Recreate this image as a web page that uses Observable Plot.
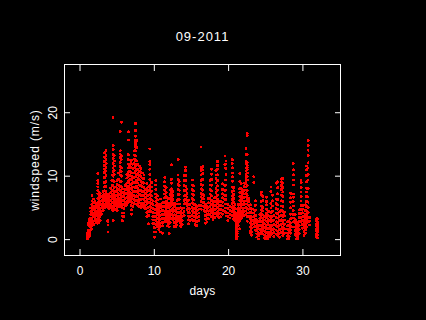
<!DOCTYPE html>
<html>
<head>
<meta charset="utf-8">
<script src="https://cdn.jsdelivr.net/npm/d3@7"></script>
<script src="https://cdn.jsdelivr.net/npm/@observablehq/plot@0.6"></script>
<style>
html,body{margin:0;padding:0;background:#000;overflow:hidden}
svg{display:block}
</style>
</head>
<body>
<div id="chart"></div>
<script>
const title = "09-2011";
const xLabel = "days";
const yLabel = "windspeed (m/s)";
const xTicks = [0, 10, 20, 30];
const yTicks = [0, 10, 20];
// each row: [day, speeds read at that day]
const week1 = [
[1.0,[0.2,0.5,0.8,1.0]],
[1.1,[0.3,0.7,1.1,1.5,2.3,2.6]],
[1.3,[0.6,1.0,1.3,2.2,2.6,3.0,3.3]],
[1.45,[1.6,2.0,2.5,3.1,3.4,3.9,4.4,5.0]],
[1.6,[1.7,2.2,2.7,3.3,4.0,4.6,5.1,5.5,6.1,7.0]],
[1.8,[2.4,2.9,3.6,4.1,4.7,5.2,5.8,6.4]],
[2.0,[3.0,3.4,3.8,4.3,4.8,5.3,6.0]],
[2.2,[2.7,3.2,3.9,4.5,5.0,5.6]],
[2.4,[2.6,3.1,3.7,4.2,4.9,5.3,5.9,6.5,7.2,7.8,8.3,8.8,9.3,10.4]],
[2.55,[2.7,3.3,4.1,4.6,5.2,5.7,6.2,6.9,7.5]],
[2.7,[3.0,3.6,4.4,4.9,5.5,6.0,6.6,7.3]],
[2.9,[4.0,4.5,5.0,5.6,6.1,6.8]],
[3.1,[4.6,5.2,5.7,6.3,7.0,7.6]],
[3.3,[5.0,5.5,6.1,6.6,7.1,7.7,8.3,9.0,9.8,10.6,11.1,11.7,12.3,13.0,13.7]],
[3.5,[5.3,5.9,6.4,7.0,7.6,8.4,9.2,10.1,10.8,11.4,12.0,12.6,13.3,14.0]],
[3.6,[5.4,6.0,6.5,7.2]],
[3.75,[1.2,2.3,2.9,3.0,5.1,5.7,6.2,6.8,7.2]],
[3.9,[4.9,5.4,5.9,6.5,7.0]],
[4.1,[5.1,5.6,6.2,6.8,7.4,8.1]],
[4.3,[4.7,5.3,5.8,6.4,7.0,7.7,8.5,9.3,10.2]],
[4.45,[3.0,4.6,5.2,5.9,6.5,7.1,7.7,8.6,9.4,10.0,10.7,11.3,12.0,12.8,13.4,14.2,14.8,19.2]],
[4.6,[4.9,5.5,6.1,6.7,7.4,8.2,9.1,10.3,10.9,11.6,12.4,13.2]],
[4.8,[4.7,5.3,5.9,6.4,7.0,7.6,8.3]],
[5.0,[4.6,5.1,5.7,6.3,6.9,7.5,8.1,8.7,9.3]],
[5.2,[5.4,6.0,6.6,7.2,7.9,8.6,9.5,10.5]],
[5.4,[5.2,5.8,6.5,7.1,7.7,8.4,9.1,10.2,10.9,11.5,12.2,12.9,13.5,14.0,17.0]],
[5.55,[5.6,6.2,6.9,7.6,8.4,9.2,10.0,10.7,11.3,12.6,13.2,18.5]],
[5.7,[3.0,3.7,4.2,5.0,5.5,6.1,6.8,7.4,8.0]],
[5.9,[3.6,4.2,4.9,5.5,6.2,6.9,7.5]],
[6.1,[5.3,5.9,6.5,7.2,7.9,8.5]],
[6.3,[5.5,6.0,6.7,7.3,8.0,8.9,9.7,10.3]],
[6.5,[5.9,6.5,7.1,7.7,8.4,9.2,10.0,10.6,11.3,11.9,12.6,13.4,15.7,17.0]],
[6.7,[6.2,6.8,7.4,8.1,8.8,9.5,10.2,10.8,11.5]]
];
const week2 = [
[6.9,[4.0,4.7,5.4,6.0,6.6,7.3,8.0,8.7,9.4,10.0,10.6,11.3,12.0,12.5]],
[7.1,[5.2,5.8,6.4,7.0,7.7,8.3,9.0,9.7,10.5,11.2,11.9]],
[7.3,[5.7,6.3,6.9,7.6,8.3,9.0,9.8,10.5,11.3,12.0,12.7,13.3,14.0]],
[7.45,[6.1,6.8,7.5,8.2,9.0,9.9,10.8,11.6,12.4,13.2,14.0,14.6,15.0,15.4,15.7,16.3,17.2,18.3]],
[7.6,[5.6,6.2,6.9,7.6,8.4,9.3,10.2,11.0,11.8,12.4,14.5,15.6]],
[7.8,[5.4,6.0,6.7,7.4,8.1,8.9,9.6,10.4,11.1,11.9]],
[8.0,[5.2,5.8,6.4,7.1,7.8,8.6,9.4,10.1,10.8,11.6]],
[8.2,[5.0,5.6,6.3,7.0,7.7,8.5,9.2,9.9,10.6,11.2]],
[8.4,[5.2,5.7,6.4,7.0,7.6,8.3,9.0,9.7,10.5]],
[8.6,[5.1,5.7,6.3,6.9,7.6,8.2,8.9,9.6,10.2]],
[8.8,[4.9,5.4,6.0,6.6,7.2,7.9]],
[9.0,[3.6,4.3,5.0,5.6,6.2,6.9,7.5,8.0,8.8]],
[9.2,[2.5,3.8,4.4,5.1,5.8,6.4,7.0,7.7,8.3]],
[9.4,[4.6,5.3,5.9,6.5,7.2,7.9,8.6,9.5,10.3,11.1,11.8,12.3,14.3]],
[9.6,[4.4,5.0,5.7,6.3,6.9,7.6,8.3,9.0]],
[9.8,[2.5,3.1,3.7,4.3,4.9,5.5,6.1]],
[10.0,[1.2,0.4,1.9,2.5,3.1,3.6,4.2,4.8]],
[10.2,[1.2,2.4,3.0,3.6,4.2,4.8,5.4,6.0,6.6,7.2,7.9,8.6,9.3]],
[10.4,[2.0,2.6,3.3,3.9,4.5,5.1,5.7,6.3,6.9]],
[10.6,[1.6,2.2,2.9,3.5,4.1,4.8,5.4]],
[10.8,[1.2,2.1,2.6,3.2,3.8,4.4,5.0,5.6,6.4]],
[11.1,[1.0,2.2,2.7,3.4,4.0,4.6,5.2,5.8]],
[11.4,[2.8,3.3,3.9,4.5,5.2,5.9,6.6,7.2,7.8,8.4,9.1,9.8]],
[11.6,[3.0,3.6,4.2,4.9,5.5,6.1,6.8,7.4,8.2]],
[11.8,[2.2,2.7,3.3,3.9,4.5,5.2,5.8,6.5]],
[12.0,[1.0,2.0,2.5,3.1,3.7,4.3,5.0,5.7]],
[12.15,[2.7,3.3,3.9,4.6,5.2,5.8,6.5,7.1,7.8]],
[12.3,[3.4,4.0,4.7,5.4,6.0,6.7,7.4,8.0,8.9,9.5,11.8]],
[12.5,[3.2,3.8,4.4,5.0,5.6,6.3,7.0,7.6]],
[12.7,[2.1,2.7,3.3,3.9,4.6,5.2,5.7]],
[12.9,[2.0,2.6,3.2,3.8,4.4,5.0]],
[13.05,[2.3,2.9,3.5,4.2,4.9,5.6,6.2]],
[13.2,[3.0,3.6,4.3,4.9,5.6,6.3,7.1,7.9,8.7,9.5,10.2,12.6]],
[13.35,[2.9,3.5,4.2,4.9,5.6,6.3,7.1,7.8,8.5,9.2]],
[13.55,[2.1,2.6,3.2,3.8,4.4,5.0]],
[13.75,[2.4,3.0,3.6,4.2,4.9]]
];
const week3 = [
[14.0,[3.8,4.4,5.0,5.6,6.2,6.9,7.7,8.5,9.3,10.1]],
[14.2,[5.7,6.3,7.0,7.7,8.4,9.3,10.1,10.9,11.4]],
[14.4,[4.8,5.4,6.0,6.7,7.3,8.0]],
[14.6,[2.5,3.1,3.7,4.3,4.9,5.6,6.2]],
[14.8,[3.0,3.6,4.2,4.8,5.5]],
[15.1,[3.2,3.8,4.5,5.1,5.8,6.5,7.2,7.9,8.6,9.4]],
[15.25,[3.0,3.7,4.3,4.9,5.6,6.3,7.0,7.7,8.5]],
[15.5,[2.4,3.0,3.6,4.3,4.9,5.5]],
[15.7,[2.2,2.8,3.4,4.0,4.6,5.2]],
[16.0,[3.0,3.6,4.2,4.8,5.4]],
[16.3,[4.8,5.4,6.0,6.7,7.3,8.0,8.7,9.3,10.2,10.9,11.4,14.6]],
[16.5,[5.3,5.9,6.5,7.1,7.8,8.6,9.5,10.4,11.0,11.5]],
[16.7,[4.6,5.2,5.8,6.4,7.0]],
[16.9,[2.6,3.2,3.8,4.4,5.0,5.6]],
[17.1,[2.8,3.4,4.0,4.7,5.3]],
[17.3,[3.3,3.9,4.5,5.1,5.8,6.5]],
[17.5,[4.0,4.6,5.2,5.8,6.5,7.2,7.9,8.6,9.3]],
[17.7,[3.6,4.2,4.8,5.5,6.2,6.9,7.7,8.6,9.5,10.3,11.1]],
[17.9,[3.2,3.8,4.5,5.1,5.8]],
[18.1,[3.5,4.1,4.7,5.4,6.0,6.6]],
[18.3,[4.2,4.8,5.4,6.0,6.7,7.4,8.1,8.9,9.6,10.2,10.9]],
[18.5,[3.8,4.4,5.0,5.7,6.3,7.0,7.8,8.5,9.3,10.2,11.1,11.7,12.3]],
[18.7,[3.5,4.1,4.7,5.3,6.0]],
[18.9,[3.6,4.2,4.8,5.4,6.0]],
[19.2,[4.0,4.6,5.3,5.9,6.6,7.2,7.9,8.8]],
[19.5,[4.4,5.0,5.6,6.3,7.0,7.7,8.5,9.4,11.3,11.8,13.2]],
[19.65,[3.7,4.3,5.0,5.6,6.3,7.0,7.8,8.6,9.4,10.3,11.2,11.9,12.4]],
[19.9,[3.0,3.6,4.2,4.9,5.5]],
[20.2,[3.4,4.0,4.6,5.2]],
[20.5,[3.8,4.4,5.0,5.7,6.3,6.9,7.6,8.3,9.2,9.9,10.5,11.3,12.0,12.6]],
[20.65,[3.3,3.9,4.6,5.2,5.9,6.5,7.1,7.7,8.2]],
[20.85,[3.0,3.7,4.3,4.9,5.5]]
];
const week4 = [
[21.0,[0.2,0.6,1.0,1.4,1.8,2.2,2.6,3.0,3.5,4.0]],
[21.15,[0.1,0.5,0.9,1.3,1.7,2.1,2.5,2.9,3.4,4.1,4.8]],
[21.3,[2.2,2.7,3.2,3.8,4.4,5.0,5.5]],
[21.5,[1.7,3.0,3.5,4.1,4.8,5.5,6.2,6.8,7.4,8.0,9.2,10.4]],
[21.7,[3.3,3.9,4.5,5.1,5.7,6.3,6.9,7.5,8.1,8.8]],
[21.9,[3.7,4.3,4.9,5.5,6.1,6.7,7.3,7.8]],
[22.1,[3.8,4.4,5.0,5.5,6.0,6.6,7.2,7.7,8.4,8.9]],
[22.35,[4.0,4.5,5.1,5.6,6.1,6.7,7.3,7.8,8.3,8.8,9.3,9.8,10.3,10.8,11.3,11.9,12.3,13.4,14.4]],
[22.5,[2.9,3.6,4.2,4.9,5.6,6.3,7.0,7.7,8.5,9.4,10.0,10.5,11.0,11.4,11.7,12.1,13.4,16.4,16.7]],
[22.7,[3.6,4.2,4.8,5.4,6.0,6.5]],
[22.95,[1.0,1.4,2.0,2.6,3.2,3.7,4.3,4.9,5.5]],
[23.1,[0.7,1.2,1.8,2.4,3.0,3.6,4.2,4.8]],
[23.4,[2.0,2.5,3.0,3.6,4.2,4.7,9.9,9.0]],
[23.6,[1.5,2.1,2.7,3.2,3.8,4.6,5.4,6.1]],
[23.8,[0.4,0.9,1.4,1.9,2.5,3.0]],
[24.0,[0.1,0.6,1.1,1.7,2.2,2.8]],
[24.2,[1.0,1.6,2.2,2.8,3.3,3.9]],
[24.4,[1.1,1.7,2.3,2.9,3.5,4.1,4.7,5.3,6.0,7.1,7.5]],
[24.6,[0.9,1.5,2.1,2.7,3.3,3.9,4.5,5.1,6.2,6.8]],
[24.85,[0.2,0.7,1.3,1.9,2.5,3.1,3.7]],
[25.1,[0.1,0.5,1.1,1.7,2.3,2.9,3.5,4.1,4.8,5.5,6.0,6.7]],
[25.3,[0.1,0.6,1.2,1.8,2.5,3.2,3.8,4.5]],
[25.5,[0.5,1.1,1.7,2.3,3.0,3.7,4.4]],
[25.7,[0.8,1.4,2.1,2.8,3.5,4.2,5.0,5.7,7.6,8.3]],
[25.9,[1.0,1.6,2.3,3.0,3.7,4.5,5.3,6.1,7.0]],
[26.1,[0.5,1.1,1.7,2.4,3.1,3.8]],
[26.4,[0.9,1.5,2.2,2.8,3.5,4.2,4.9,5.7,6.4,8.9]],
[26.6,[0.7,1.3,2.0,2.7,3.4,4.1,4.8,5.5,6.3,7.2,8.2,9.1]],
[26.85,[0.4,1.0,1.6,2.3,3.0,3.7,4.4]],
[27.1,[1.1,1.7,2.4,3.1,3.8,4.6,5.3,6.1,7.0,7.9,8.5,9.1,9.6]]
];
const week5 = [
[27.3,[0.6,1.3,2.0,2.8,3.6,4.4,5.2,6.0,6.8,7.5,8.2,8.9,9.6]],
[27.5,[1.0,1.7,2.4,3.1,3.8,4.3]],
[27.95,[0.1,0.5,1.0,1.6,2.2,2.8]],
[28.15,[0.1,0.5,1.1,1.7,2.3,2.9]],
[28.35,[1.0,1.5,2.1,2.6,3.3,4.0,5.0,5.9,6.6,7.3]],
[28.7,[2.0,2.8,3.4,4.0,4.6,5.3,6.0,6.7,7.2,8.6,9.4,10.2,11.0,12.0]],
[28.95,[0.8,1.4,2.0,2.7,3.2,4.0]],
[29.15,[0.1,0.6,1.1,1.7,2.3,2.8]],
[29.3,[0.1,0.4,0.8,1.3,1.9,2.6]],
[29.5,[1.0,1.6,2.2,2.9,3.5,4.1,4.7]],
[29.75,[2.9,3.5,4.1,4.7,5.4,6.1,6.8,7.5,8.2,9.0,9.4]],
[29.95,[1.8,2.4,3.0,3.6,4.2,4.8,5.4]],
[30.15,[0.7,1.3,1.9,2.5,3.1,3.7]],
[30.35,[1.0,1.6,2.2,2.8,3.4,4.0,4.6,5.5]],
[30.5,[2.0,2.6,3.2,3.8,4.5,5.2,6.0,6.8,7.5,8.1,9.1,10.1,11.0,11.6]],
[30.7,[2.8,3.5,4.3,5.1,5.9,6.7,8.1,9.4,10.3,11.3,12.1,13.3,14.1,14.8,15.6]],
[30.9,[2.3,2.9,3.5]],
[31.85,[0.5,0.9,1.3,1.7,2.1,2.5,2.9,3.3]],
[31.95,[0.3,0.7,1.2,1.6,2.0,2.4,2.8,3.2]]
];
const data = [...week1, ...week2, ...week3, ...week4, ...week5]
  .flatMap(([day, speeds]) => speeds.map(speed => ({day, speed})));
const blank = () => "";

const plot = Plot.plot({
  width: 426,
  height: 320,
  marginLeft: 64,
  marginRight: 86,
  marginTop: 64,
  marginBottom: 65,
  style: {background: "#000", color: "#fff", fontFamily: "Liberation Sans", fontSize: "12px"},
  x: {domain: [-2.09, 35.06]},
  y: {domain: [-2.5, 27.6]},
  marks: [
    Plot.dot(data, {x: "day", y: "speed", r: 1.5, fill: "#ff0000", stroke: "none", shapeRendering: "crispEdges"}),
    Plot.frame({stroke: "#fff", strokeOpacity: 1, strokeWidth: 1, shapeRendering: "crispEdges"}),
    Plot.axisX(xTicks, {anchor: "bottom", tickSize: -6, tickPadding: 17, fontSize: 12, fill: "#fff", stroke: "#fff", strokeOpacity: 1, label: xLabel, labelAnchor: "center", labelOffset: 39, labelArrow: "none", tickFormat: d => String(d)}),
    Plot.axisX(xTicks, {anchor: "top", tickSize: -6, stroke: "#fff", strokeOpacity: 1, tickFormat: blank, label: null}),
    Plot.axisY(yTicks, {anchor: "left", tickSize: -6, tickPadding: 14, fontSize: 12, tickRotate: -90, textAnchor: "middle", fill: "#fff", stroke: "#fff", strokeOpacity: 1, label: yLabel, labelAnchor: "center", labelOffset: 34, labelArrow: "none", tickFormat: d => String(d)}),
    Plot.axisY(yTicks, {anchor: "right", tickSize: -6, stroke: "#fff", strokeOpacity: 1, tickFormat: blank, label: null}),
    Plot.text([title], {frameAnchor: "top", dy: -33, fill: "#fff", fontSize: 13})
  ]
});
document.getElementById("chart").appendChild(plot);
// The reference's lettering runs wider than Liberation Sans at this size.
const textSpacing = new Map([[title, "1px"], [yLabel, "0.9px"], [xLabel, "0.2px"]]);
plot.querySelectorAll("text").forEach(t => {
  const spacing = textSpacing.get(t.textContent.trim());
  if (spacing) t.style.letterSpacing = spacing;
});
</script>
</body>
</html>
